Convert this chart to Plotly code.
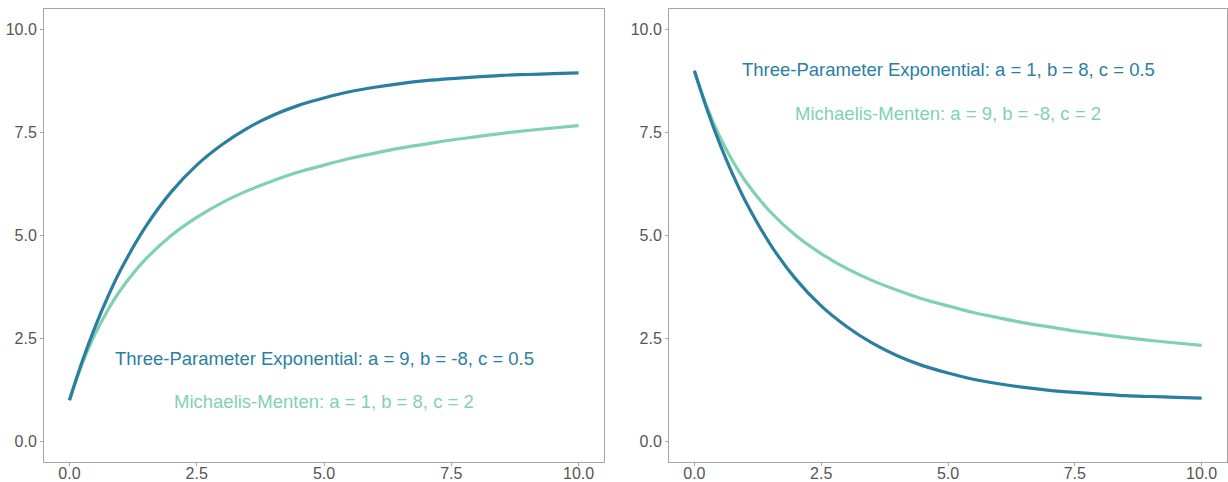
import plotly.graph_objects as go

# x positions at which values were read
x_vals = [0, 0.25, 0.5, 0.75, 1.0, 1.5, 2.0, 2.5, 3.0, 3.5, 4.0, 4.5, 5.0,
          5.5, 6.0, 6.5, 7.0, 7.5, 8.0, 8.5, 9.0, 9.5, 10.0]

# Left panel
left_exp = [1.00, 1.94, 2.77, 3.50, 4.15, 5.22, 6.06, 6.71, 7.21, 7.61, 7.92, 8.16, 8.34,
            8.49, 8.60, 8.69, 8.76, 8.81, 8.85, 8.89, 8.91, 8.93, 8.95]
left_mm = [1.00, 1.89, 2.60, 3.18, 3.67, 4.43, 5.00, 5.44, 5.80, 6.09, 6.33, 6.54, 6.71,
           6.87, 7.00, 7.12, 7.22, 7.32, 7.40, 7.48, 7.55, 7.61, 7.67]

# Right panel
right_exp = [9.00, 8.06, 7.23, 6.50, 5.85, 4.78, 3.94, 3.29, 2.79, 2.39, 2.08, 1.84, 1.66,
             1.51, 1.40, 1.31, 1.24, 1.19, 1.15, 1.11, 1.09, 1.07, 1.05]
right_mm = [9.00, 8.11, 7.40, 6.82, 6.33, 5.57, 5.00, 4.56, 4.20, 3.91, 3.67, 3.46, 3.29,
            3.13, 3.00, 2.88, 2.78, 2.68, 2.60, 2.52, 2.45, 2.39, 2.33]

tick_vals = [0, 2.5, 5, 7.5, 10]
tick_text = ["0.0", "2.5", "5.0", "7.5", "10.0"]

labels_left = ["Three-Parameter Exponential: a = 9, b = -8, c = 0.5",
               "Michaelis-Menten: a = 1, b = 8, c = 2"]
labels_right = ["Three-Parameter Exponential: a = 1, b = 8, c = 0.5",
                "Michaelis-Menten: a = 9, b = -8, c = 2"]

DARK = "#2a7fa1"
LIGHT = "#7fd1b2"
FONT = "Liberation Sans, Arial, sans-serif"

fig = go.Figure()
fig.add_trace(go.Scatter(x=x_vals, y=left_mm, mode="lines", line=dict(color=LIGHT, width=3.2, shape="spline"),
                         xaxis="x", yaxis="y", showlegend=False))
fig.add_trace(go.Scatter(x=x_vals, y=left_exp, mode="lines", line=dict(color=DARK, width=3.2, shape="spline"),
                         xaxis="x", yaxis="y", showlegend=False))
fig.add_trace(go.Scatter(x=x_vals, y=right_mm, mode="lines", line=dict(color=LIGHT, width=3.2, shape="spline"),
                         xaxis="x2", yaxis="y2", showlegend=False))
fig.add_trace(go.Scatter(x=x_vals, y=right_exp, mode="lines", line=dict(color=DARK, width=3.2, shape="spline"),
                         xaxis="x2", yaxis="y2", showlegend=False))

axis_common = dict(range=[-0.5, 10.5], tickvals=tick_vals, ticktext=tick_text,
                   showgrid=False, zeroline=False, showline=True, mirror=True, automargin=False,
                   linecolor="#a6a6a6", linewidth=1, ticks="outside", ticklen=3,
                   tickcolor="#a6a6a6", tickfont=dict(family=FONT, size=16, color="#555555"))

fig.update_layout(
    width=1228, height=482,
    margin=dict(l=0, r=0, t=0, b=0),
    paper_bgcolor="white", plot_bgcolor="white",
    font=dict(family=FONT),
    xaxis=dict(domain=[44/1228, 604/1228], anchor="y", ticklabelstandoff=-6, **axis_common),
    yaxis=dict(domain=[1 - 462/482, 1 - 9/482], anchor="x", **axis_common),
    xaxis2=dict(domain=[669/1228, 1227/1228], anchor="y2", ticklabelstandoff=-6, **axis_common),
    yaxis2=dict(domain=[1 - 462/482, 1 - 9/482], anchor="x2", **axis_common),
)

anns = []
for (lab, col, yy, sh) in [(labels_left[0], DARK, 2, 1), (labels_left[1], LIGHT, 1, -1.5)]:
    anns.append(dict(x=5, y=yy, xref="x", yref="y", text=lab, showarrow=False, yshift=sh,
                     font=dict(family=FONT, size=18.5, color=col)))
for (lab, col, yy, sh) in [(labels_right[0], DARK, 9, 1), (labels_right[1], LIGHT, 8, -1.5)]:
    anns.append(dict(x=5, y=yy, xref="x2", yref="y2", text=lab, showarrow=False, yshift=sh,
                     font=dict(family=FONT, size=18.5, color=col)))
fig.update_layout(annotations=anns)

fig.write_html("out.html")
